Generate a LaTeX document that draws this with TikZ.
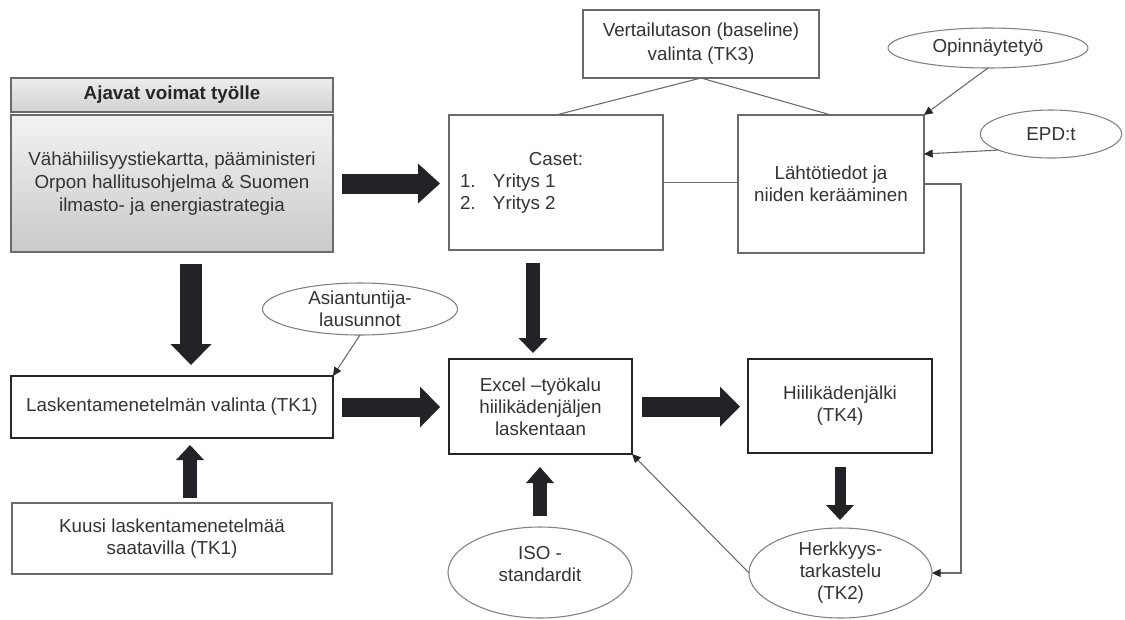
\documentclass[tikz,border=0pt]{standalone}
\usepackage{fontspec}
\setmainfont{Liberation Sans}
\usetikzlibrary{shapes.geometric,arrows.meta,calc}
\definecolor{txt}{HTML}{333333}
\definecolor{darkline}{HTML}{262626}
\definecolor{thinline}{HTML}{6A6A6A}
\definecolor{ovalline}{HTML}{808080}
\definecolor{blockc}{HTML}{232327}

\begin{document}
\begin{tikzpicture}[x=0.75pt,y=-0.75pt,
  every node/.style={font=\fontsize{14.1pt}{16.5pt}\selectfont, text=txt,
    align=center, inner sep=0pt, outer sep=0pt},
  thinbox/.style={rectangle, draw=thinline, line width=0.8pt},
  thickbox/.style={rectangle, draw=darkline, line width=2pt},
  oval/.style={ellipse, draw=ovalline, line width=0.8pt},
  link/.style={draw=thinline, line width=0.8pt},
  feed/.style={link, -{Triangle[length=6.5pt,width=6pt,color=darkline]}},
  blk/.style n args={3}{draw=blockc, line width=#1,
    -{Triangle[line width=0pt, width=#2 0 0, length=#3 0 0, color=blockc]}},
]
\useasboundingbox (0,0) rectangle (1125,619);

% left column
\node[thinbox, top color=gray!14, bottom color=gray!36,
      minimum width=241.5pt, minimum height=25.5pt,
      font=\fontsize{14.1pt}{16.5pt}\selectfont\bfseries, text=darkline]
      (head) at (172,95) {Ajavat voimat työlle};
\node[thinbox, top color=gray!10, bottom color=gray!42,
      minimum width=241.5pt, minimum height=102.75pt,
      font=\fontsize{14.1pt}{17.5pt}\selectfont]
      (main) at (172,183.5) {Vähähiilisyystiekartta, pääministeri\\Orpon hallitusohjelma \& Suomen\\ilmasto- ja energiastrategia};
\node[thickbox, minimum width=241.5pt, minimum height=46.5pt]
      (lask) at (172,407) {Laskentamenetelmän valinta (TK1)};
\node[thinbox, minimum width=240pt, minimum height=53.25pt]
      (kuusi) at (172,538.5) {Kuusi laskentamenetelmää\\saatavilla (TK1)};
\node[oval, minimum width=146.25pt, minimum height=39pt, inner ysep=-3pt]
      (asi) at (360,309) {Asiantuntija-\\lausunnot};

% middle column
\node[thinbox, minimum width=177pt, minimum height=51pt,
      font=\fontsize{14.1pt}{18pt}\selectfont]
      (vert) at (701,44) {Vertailutason (baseline)\\valinta (TK3)};
\node[thinbox, minimum width=160.5pt, minimum height=101.25pt]
      (caset) at (556,182.5) {Caset:\\
        \makebox[144pt][l]{\makebox[24.75pt][l]{1.}Yritys 1}\\
        \makebox[144pt][l]{\makebox[24.75pt][l]{2.}Yritys 2}};
\node[thickbox, minimum width=137.25pt, minimum height=71.25pt]
      (excel) at (540.5,406.5) {Excel –työkalu\\hiilikädenjäljen\\laskentaan};
\node[oval, minimum width=138pt, minimum height=68.25pt]
      (iso) at (540,572.5) {\raisebox{5pt}[\height][\depth]{\begin{tabular}{@{}c@{}}ISO -\\standardit\end{tabular}}};

% right column
\node[thinbox, minimum width=139.5pt, minimum height=103.5pt]
      (lahto) at (831,184) {Lähtötiedot ja\\niiden kerääminen};
\node[oval, minimum width=150pt, minimum height=30pt]
      (opin) at (988,48) {Opinnäytetyö};
\node[oval, minimum width=106pt, minimum height=36pt]
      (epd) at (1051,134) {EPD:t};
\node[thickbox, minimum width=138pt, minimum height=70.5pt]
      (hiilik) at (840,406) {Hiilikädenjälki\\(TK4)};
\node[oval, minimum width=137.25pt, minimum height=67.5pt]
      (herkk) at (840.5,573) {Herkkyys-\\tarkastelu\\(TK2)};

% thin links and feeds
\draw[link] (vert.south) -- (caset.north);
\draw[link] (vert.south) -- (lahto.north);
\draw[link] (caset.east) -- (caset.east -| lahto.west);
\draw[feed] (lahto.east) -- ++(37,0) |- (herkk.east);
\draw[feed] (opin.south) -- (lahto.north east);
\draw[feed] (epd.197) -- ($(lahto.east)+(0,-30)$);
\draw[feed] (asi.south) -- (lask.north east);
\draw[feed] (herkk.west) -- (excel.south east);

% block arrows
\draw[blk={15pt}{30pt}{16.5pt}, shorten <=6.75pt, shorten >=6.75pt]
  (main.east) -- (main.east -| caset.west);
\draw[blk={16.5pt}{30.75pt}{15.75pt}, shorten <=9pt, shorten >=8.25pt]
  ($(main.south)+(19,0)$) -- ($(lask.north)+(19,0)$);
\draw[blk={10.5pt}{21pt}{11.25pt}, shorten <=3.75pt, shorten >=5.25pt]
  ($(kuusi.north)+(18,0)$) -- ($(lask.south)+(18,0)$);
\draw[blk={14.25pt}{30.75pt}{15pt}, shorten <=6.75pt, shorten >=6.75pt]
  (lask.east) -- (lask.east -| excel.west);
\coordinate (cx) at ($(excel.north)+(-7.5,0)$);
\draw[blk={10.5pt}{21.75pt}{11.25pt}, shorten <=9.75pt, shorten >=4.5pt]
  (cx |- caset.south) -- (cx);
\draw[blk={10.5pt}{21pt}{12pt}, shorten <=8.25pt, shorten >=9.75pt]
  (iso.north) -- (iso.north |- excel.south);
\draw[blk={15pt}{30pt}{15pt}, shorten <=7.5pt, shorten >=6pt]
  (excel.east) -- (excel.east -| hiilik.west);
\draw[blk={8.25pt}{21pt}{11.25pt}, shorten <=10.5pt, shorten >=6pt]
  (hiilik.south) -- (hiilik.south |- herkk.north);
\end{tikzpicture}
\end{document}
